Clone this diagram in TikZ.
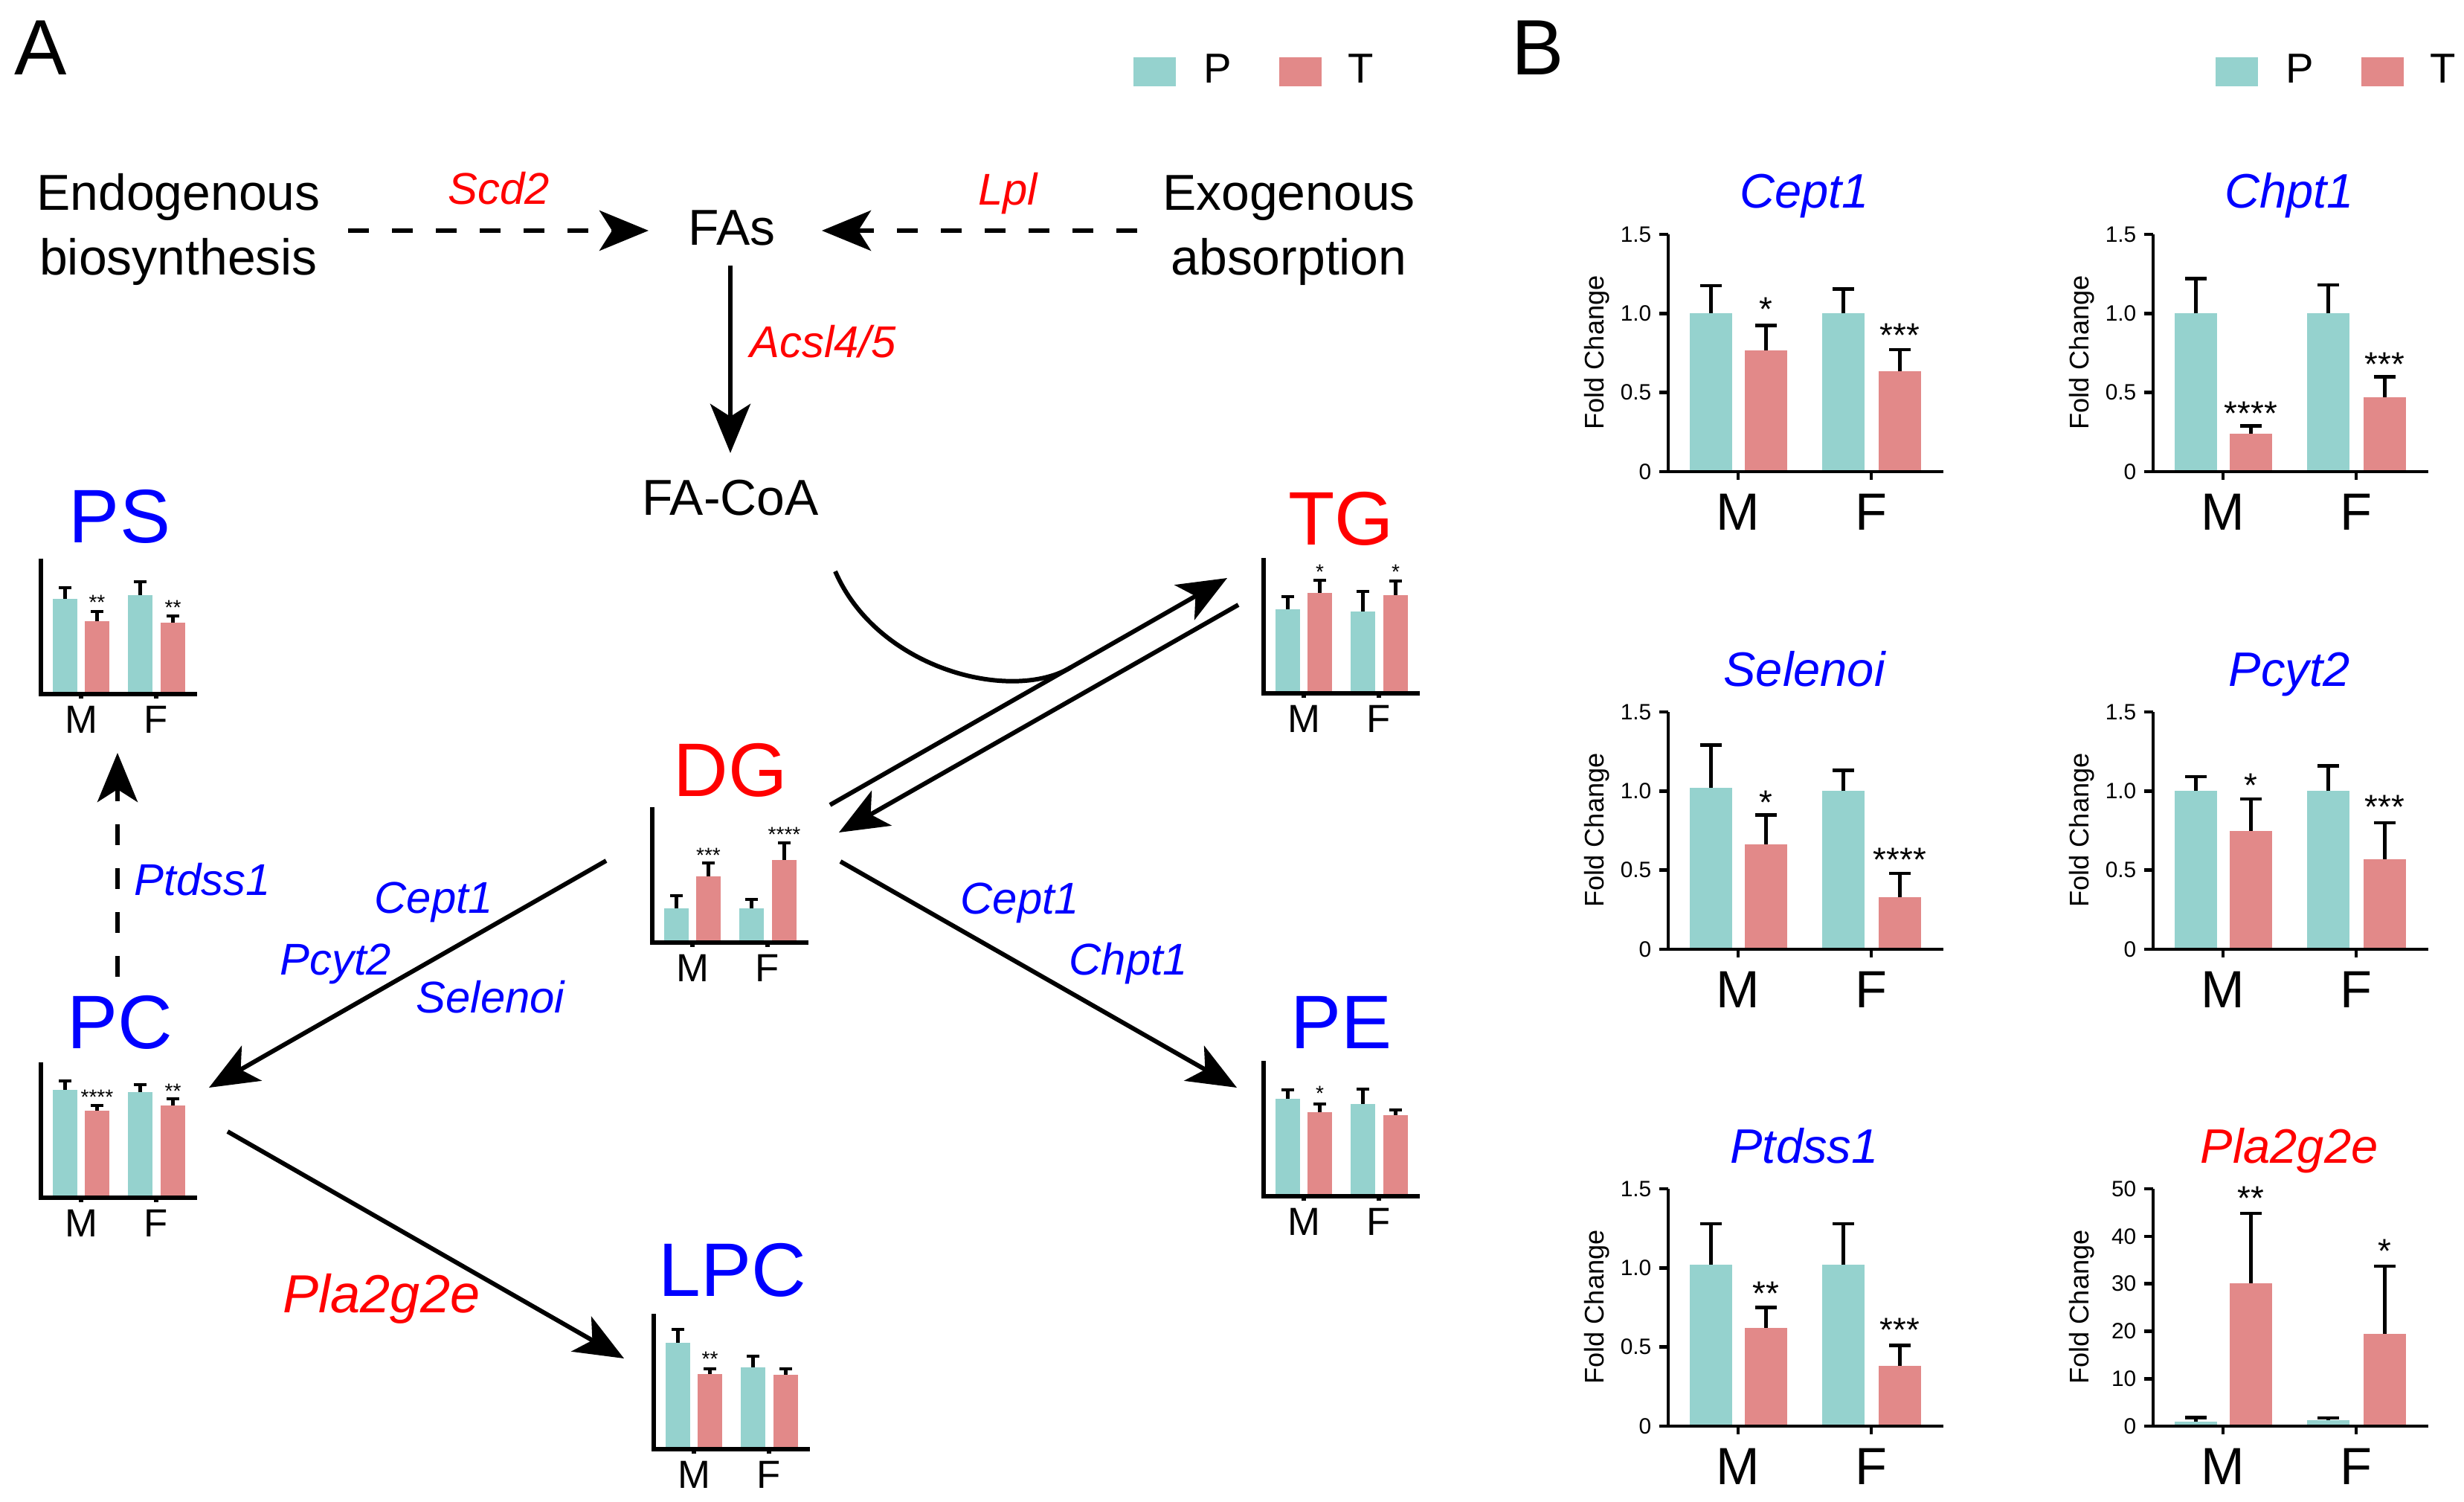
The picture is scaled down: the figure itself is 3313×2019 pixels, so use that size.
\documentclass[tikz,border=0pt]{standalone}
\usepackage{fontspec}
\setmainfont{Liberation Sans}
\usetikzlibrary{arrows.meta}

\definecolor{pteal}{RGB}{149,210,206}
\definecolor{tred}{RGB}{226,137,137}

\tikzset{
	flow/.style={line width=1.7pt, -{Stealth[length=0.66cm,width=0.54cm,inset=0.17cm]}},
	dflow/.style={flow, dash pattern=on 0.28cm off 0.31cm},
	miniaxis/.style={line width=1.5pt},
	minierr/.style={line width=1.3pt},
	baxis/.style={line width=1.3pt},
	berr/.style={line width=1.3pt},
	panel/.style={font=\fontsize{30}{36}\selectfont, inner sep=0pt},
	big/.style={font=\fontsize{19.3}{24.75}\selectfont, inner sep=0pt},
	gene/.style={font=\fontsize{17}{20}\selectfont\itshape, inner sep=0pt},
	lipid/.style={font=\fontsize{29}{34}\selectfont, inner sep=0pt},
	legtxt/.style={font=\fontsize{16}{19}\selectfont, inner sep=0pt},
	mlbl/.style={font=\fontsize{15}{18}\selectfont, inner sep=0pt},
	minist/.style={font=\fontsize{8}{9}\selectfont, inner sep=0pt},
	bxlbl/.style={font=\fontsize{20}{24}\selectfont, inner sep=0pt},
	btitle/.style={font=\fontsize{18.5}{22}\selectfont\itshape, inner sep=0pt},
	ticklbl/.style={font=\fontsize{8.5}{10}\selectfont, inner sep=0pt},
	ylbl/.style={font=\fontsize{10.3}{12}\selectfont, inner sep=0pt, rotate=90},
	bstar/.style={font=\fontsize{13}{15}\selectfont, inner sep=0pt}
}

% small bar charts of panel A
\newcommand{\minibar}[4]{%
	\fill[#4] (#1,0) rectangle (#1+33,-#2);
	\draw[minierr] (#1+16.5,-#2) -- (#1+16.5,-#3) (#1+8,-#3) -- (#1+25,-#3);
}
\newcommand{\minichart}[9]{%
	\minibar{16}{#2}{#3}{pteal}
	\minibar{59}{#4}{#5}{tred}
	\minibar{117}{#6}{#7}{pteal}
	\minibar{161}{#8}{#9}{tred}
	\draw[miniaxis] (0,-182) -- (0,0) -- (210,0) (54,0) -- (54,6) (155,0) -- (155,6);
	\node[mlbl, anchor=base] (#1-M) at (54,52) {M};
	\node[mlbl, anchor=base] (#1-F) at (155,52) {F};
}

% fold change charts of panel B
\newcommand{\foldbar}[4]{%
	\fill[#4] (#1,0) rectangle (#1+57,-#2*\fcu);
	\draw[berr] (#1+28.5,-#2*\fcu) -- (#1+28.5,-#3*\fcu) (#1+14,-#3*\fcu) -- (#1+43,-#3*\fcu);
}
\newcommand{\foldchart}[9]{%
	\foldbar{29}{#2}{#3}{pteal}
	\foldbar{103}{#4}{#5}{tred}
	\foldbar{207}{#6}{#7}{pteal}
	\foldbar{283}{#8}{#9}{tred}
	\draw[baxis] (0,-319) -- (0,0) (-12,0) -- (370,0) (94,0) -- (94,11) (273,0) -- (273,11);
	\node[bxlbl, anchor=base] (#1-M) at (94,78) {M};
	\node[bxlbl, anchor=base] (#1-F) at (273,78) {F};
	\node[ylbl] (#1-y) at (-96,-160) {Fold Change};
}
\newcommand{\foldticks}[2]{%
	\foreach \ty/\tl [count=\k] in {#2} {
		\draw[baxis] (-12,-\ty) -- (0,-\ty);
		\node[ticklbl, anchor=east] (#1-t\k) at (-22,-\ty) {\tl};
	}
}

\begin{document}
\begin{tikzpicture}[x=0.01cm, y=-0.01cm]
	\useasboundingbox (0,0) rectangle (3313,2019);

	\node[panel, anchor=base] (pa) at (55,101) {A};
	\node[panel, anchor=base] (pb) at (2068,101) {B};

	% legends
	\fill[pteal] (1524,77) rectangle (1581,116);
	\node[legtxt, anchor=base west] (lega-p) at (1618,112) {P};
	\fill[tred] (1720,77) rectangle (1777,116);
	\node[legtxt, anchor=base west] (lega-t) at (1812,112) {T};
	\fill[pteal] (2979,77) rectangle (3036,116);
	\node[legtxt, anchor=base west] (legb-p) at (3073,112) {P};
	\fill[tred] (3175,77) rectangle (3232,116);
	\node[legtxt, anchor=base west] (legb-t) at (3267,112) {T};

	% fatty acids
	\node[big, align=center, anchor=north] (endo) at (240,233) {Endogenous\\biosynthesis};
	\node[big, align=center, anchor=north] (exo) at (1733,235) {Exogenous\\absorption};
	\node[big, anchor=base] (fas) at (984,330) {FAs};
	\node[big, anchor=base] (facoa) at (982,693) {FA-CoA};
	\node[gene, text=red, anchor=base] (scd2) at (671,275) {Scd2};
	\node[gene, text=red, anchor=base] (lpl) at (1355,276) {Lpl};
	\node[gene, text=red, anchor=base west] (acsl) at (1008,481) {Acsl4/5};

	\coordinate (endo-out) at (468,310);
	\coordinate (fas-w) at (872,310);
	\coordinate (exo-out) at (1529,310);
	\coordinate (fas-e) at (1105,310);
	\coordinate (fas-s) at (982,357);
	\coordinate (facoa-n) at (982,609);
	\draw[dflow] (endo-out) -- (fas-w);
	\draw[dflow] (exo-out) -- (fas-e);
	\draw[flow] (fas-s) -- (facoa-n);

	% lipid classes
	\node[lipid, text=blue, anchor=base] (ps) at (161,730) {PS};
	\node[lipid, text=blue, anchor=base] (pc) at (161,1409) {PC};
	\node[lipid, text=red, anchor=base] (dg) at (982,1070) {DG};
	\node[lipid, text=blue, anchor=base] (lpc) at (985,1742) {LPC};
	\node[lipid, text=red, anchor=base] (tg) at (1803,733) {TG};
	\node[lipid, text=blue, anchor=base] (pe) at (1803,1409) {PE};

	\begin{scope}[shift={(55,933)}]
		\minichart{psc}{128}{143}{98}{111}{133}{151}{96}{105}
		\node[minist, anchor=base] (psc-s1) at (75.5,-114) {**};
		\node[minist, anchor=base] (psc-s2) at (177.5,-106) {**};
	\end{scope}
	\begin{scope}[shift={(55,1610)}]
		\minichart{pcc}{145}{157}{117}{124}{142}{152}{124}{133}
		\node[minist, anchor=base] (pcc-s1) at (75.5,-126) {****};
		\node[minist, anchor=base] (pcc-s2) at (177.5,-134) {**};
	\end{scope}
	\begin{scope}[shift={(877,1267)}]
		\minichart{dgc}{46}{63}{89}{107}{46}{58}{111}{134}
		\node[minist, anchor=base] (dgc-s1) at (75.5,-108) {***};
		\node[minist, anchor=base] (dgc-s2) at (177.5,-136) {****};
	\end{scope}
	\begin{scope}[shift={(879,1948)}]
		\minichart{lpcc}{143}{161}{101}{108}{110}{125}{100}{108}
		\node[minist, anchor=base] (lpcc-s1) at (75.5,-112) {**};
	\end{scope}
	\begin{scope}[shift={(1699,932)}]
		\minichart{tgc}{113}{130}{135}{152}{110}{137}{132}{151}
		\node[minist, anchor=base] (tgc-s1) at (75.5,-154) {*};
		\node[minist, anchor=base] (tgc-s2) at (177.5,-154) {*};
	\end{scope}
	\begin{scope}[shift={(1699,1608)}]
		\minichart{pec}{131}{143}{113}{124}{124}{144}{109}{116}
		\node[minist, anchor=base] (pec-s1) at (75.5,-129) {*};
	\end{scope}

	% reactions
	\coordinate (facoa-out) at (1123,768);
	\coordinate (dg-ne) at (1116,1082);
	\coordinate (tg-in) at (1650,777);
	\coordinate (tg-out) at (1665,813);
	\coordinate (dg-in) at (1128,1119);
	\coordinate (merge) at (1440,897);
	\coordinate (dg-w) at (815,1157);
	\coordinate (pc-in) at (281,1462);
	\coordinate (dg-e) at (1130,1158);
	\coordinate (pe-in) at (1663,1462);
	\coordinate (pc-out) at (306,1521);
	\coordinate (lpc-in) at (839,1826);
	\coordinate (pc-n) at (158,1313);
	\coordinate (ps-in) at (158,1012);

	\draw[line width=1.7pt] (facoa-out) .. controls (1180,900) and (1360,945) .. (merge);
	\draw[flow] (dg-ne) -- (tg-in);
	\draw[flow] (tg-out) -- (dg-in);
	\draw[flow] (dg-w) -- (pc-in);
	\draw[flow] (dg-e) -- (pe-in);
	\draw[flow] (pc-out) -- (lpc-in);
	\draw[dflow] (pc-n) -- (ps-in);

	\node[gene, text=blue, anchor=base west] (g-ptdss1) at (180,1203) {Ptdss1};
	\node[gene, text=blue, anchor=base west] (g-cept1a) at (503,1227) {Cept1};
	\node[gene, text=blue, anchor=base west] (g-pcyt2) at (376,1310) {Pcyt2};
	\node[gene, text=blue, anchor=base west] (g-selenoi) at (559,1361) {Selenoi};
	\node[gene, text=blue, anchor=base west] (g-cept1b) at (1291,1228) {Cept1};
	\node[gene, text=blue, anchor=base west] (g-chpt1) at (1437,1310) {Chpt1};
	\node[gene, text=red, anchor=base west, font=\fontsize{20.5}{24}\selectfont\itshape] (g-pla) at (380,1764) {Pla2g2e};

	% panel B
	\def\fcu{212.67}
	\begin{scope}[shift={(2243,634)}]
		\foldchart{cept}{1.0}{1.175}{0.766}{0.925}{1.0}{1.155}{0.637}{0.771}
		\foldticks{cept}{0/0, 106.33/0.5, 212.67/1.0, 319/1.5}
		\node[btitle, text=blue, anchor=base] (cept) at (183,-354) {Cept1};
		\node[bstar, anchor=base] (cept-s1) at (131.5,-1.08*\fcu+27) {*};
		\node[bstar, anchor=base] (cept-s2) at (311.5,-0.915*\fcu+27) {***};
	\end{scope}
	\begin{scope}[shift={(2895,634)}]
		\foldchart{chpt}{1.0}{1.22}{0.24}{0.29}{1.0}{1.18}{0.47}{0.60}
		\foldticks{chpt}{0/0, 106.33/0.5, 212.67/1.0, 319/1.5}
		\node[btitle, text=blue, anchor=base] (chpt) at (183,-354) {Chpt1};
		\node[bstar, anchor=base] (chpt-s1) at (131.5,-0.42*\fcu+27) {****};
		\node[bstar, anchor=base] (chpt-s2) at (311.5,-0.73*\fcu+27) {***};
	\end{scope}
	\begin{scope}[shift={(2243,1276)}]
		\foldchart{sele}{1.02}{1.29}{0.665}{0.85}{1.0}{1.13}{0.33}{0.48}
		\foldticks{sele}{0/0, 106.33/0.5, 212.67/1.0, 319/1.5}
		\node[btitle, text=blue, anchor=base] (sele) at (183,-354) {Selenoi};
		\node[bstar, anchor=base] (sele-s1) at (131.5,-0.98*\fcu+27) {*};
		\node[bstar, anchor=base] (sele-s2) at (311.5,-0.62*\fcu+27) {****};
	\end{scope}
	\begin{scope}[shift={(2895,1276)}]
		\foldchart{pcyt}{1.0}{1.09}{0.75}{0.95}{1.0}{1.16}{0.57}{0.80}
		\foldticks{pcyt}{0/0, 106.33/0.5, 212.67/1.0, 319/1.5}
		\node[btitle, text=blue, anchor=base] (pcyt) at (183,-354) {Pcyt2};
		\node[bstar, anchor=base] (pcyt-s1) at (131.5,-1.09*\fcu+27) {*};
		\node[bstar, anchor=base] (pcyt-s2) at (311.5,-0.95*\fcu+27) {***};
	\end{scope}
	\begin{scope}[shift={(2243,1917)}]
		\foldchart{ptds}{1.02}{1.28}{0.62}{0.75}{1.02}{1.28}{0.38}{0.51}
		\foldticks{ptds}{0/0, 106.33/0.5, 212.67/1.0, 319/1.5}
		\node[btitle, text=blue, anchor=base] (ptds) at (183,-354) {Ptdss1};
		\node[bstar, anchor=base] (ptds-s1) at (131.5,-0.89*\fcu+27) {**};
		\node[bstar, anchor=base] (ptds-s2) at (311.5,-0.66*\fcu+27) {***};
	\end{scope}
	\def\fcu{6.38}
	\begin{scope}[shift={(2895,1917)}]
		\foldchart{plag}{1.0}{1.8}{30.1}{44.8}{1.2}{1.7}{19.4}{33.7}
		\foldticks{plag}{0/0, 63.8/10, 127.6/20, 191.4/30, 255.2/40, 319/50}
		\node[btitle, text=red, anchor=base] (plag) at (183,-354) {Pla2g2e};
		\node[bstar, anchor=base] (plag-s1) at (131.5,-49.7*\fcu+27) {**};
		\node[bstar, anchor=base] (plag-s2) at (311.5,-38.7*\fcu+27) {*};
	\end{scope}
\end{tikzpicture}
\end{document}
